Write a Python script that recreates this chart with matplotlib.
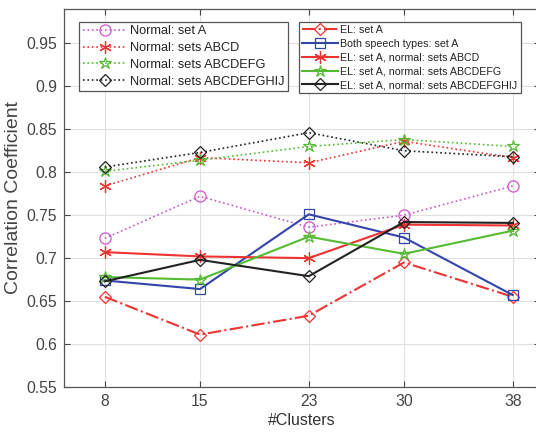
import matplotlib
matplotlib.use("Agg")
import matplotlib.pyplot as plt

plt.rcParams['font.family'] = ['Liberation Sans', 'DejaVu Sans']

clusters = [8, 15, 23, 30, 38]
xtick_labels = ['8', '15', '23', '30', '38']
yticks = [0.55, 0.6, 0.65, 0.7, 0.75, 0.8, 0.85, 0.9, 0.95]
ytick_labels = ['0.55', '0.6', '0.65', '0.7', '0.75', '0.8', '0.85', '0.9', '0.95']

normal_a = [0.723, 0.772, 0.736, 0.750, 0.784]
normal_abcd = [0.784, 0.817, 0.811, 0.836, 0.817]
normal_abcdefg = [0.801, 0.814, 0.830, 0.838, 0.830]
normal_abcdefghij = [0.806, 0.823, 0.846, 0.825, 0.818]

el_a = [0.655, 0.611, 0.633, 0.695, 0.655]
both_a = [0.674, 0.664, 0.751, 0.724, 0.657]
el_normal_abcd = [0.707, 0.702, 0.700, 0.739, 0.738]
el_normal_abcdefg = [0.678, 0.675, 0.725, 0.705, 0.732]
el_normal_abcdefghij = [0.673, 0.698, 0.679, 0.742, 0.741]

labels_left = ['Normal: set A', 'Normal: sets ABCD', 'Normal: sets ABCDEFG',
               'Normal: sets ABCDEFGHIJ']
labels_right = ['EL: set A', 'Both speech types: set A', 'EL: set A, normal: sets ABCD',
                'EL: set A, normal: sets ABCDEFG', 'EL: set A, normal: sets ABCDEFGHIJ']

MAG = '#cc55cc'
RED = '#ee3333'
GRN = '#55bb33'
BLU = '#3344aa'
BLK = '#222222'
ASTER = (6, 2, 0)

W, H = 536, 434
fig = plt.figure(figsize=(W / 100, H / 100), dpi=100)
left, right, top, bottom = 64, 540, 9, 387
ax = fig.add_axes([left / W, 1 - bottom / H, (right - left) / W, (bottom - top) / H])

left_series = [
    (normal_a, MAG, ':', 'o', 8, 'none'),
    (normal_abcd, RED, ':', ASTER, 9, RED),
    (normal_abcdefg, GRN, ':', '*', 9, 'none'),
    (normal_abcdefghij, BLK, ':', 'D', 6.5, 'none'),
]
right_series = [
    (el_a, RED, '-.', 'D', 6.5, 'none'),
    (both_a, BLU, '-', 's', 6.5, 'none'),
    (el_normal_abcd, RED, '-', ASTER, 9, RED),
    (el_normal_abcdefg, GRN, '-', '*', 9, 'none'),
    (el_normal_abcdefghij, BLK, '-', 'D', 6.5, 'none'),
]

hl, hr = [], []
for (vals, c, ls, mk, ms, mfc), lab in zip(left_series, labels_left):
    ln, = ax.plot(clusters, vals, color=c, linestyle=ls, linewidth=1.2, marker=mk,
                  markersize=ms, markerfacecolor=mfc, markeredgecolor=c,
                  markeredgewidth=0.9, label=lab)
    hl.append(ln)
for (vals, c, ls, mk, ms, mfc), lab in zip(right_series, labels_right):
    ln, = ax.plot(clusters, vals, color=c, linestyle=ls, linewidth=1.5, marker=mk,
                  markersize=ms, markerfacecolor=mfc, markeredgecolor=c,
                  markeredgewidth=0.9, label=lab)
    hr.append(ln)

ax.set_xlim(5, 40)
ax.set_ylim(0.55, 0.99)
ax.set_xticks(clusters)
ax.set_xticklabels(xtick_labels)
ax.set_yticks(yticks)
ax.set_yticklabels(ytick_labels)
ax.grid(True, color='#e0e0e0', linewidth=0.8)
ax.set_axisbelow(True)
ax.tick_params(direction='in', length=4, width=0.8, colors='#444444',
               labelsize=11.3, labelcolor='#444444', top=True, right=True, pad=5)
for s in ax.spines.values():
    s.set_color('#555555')
    s.set_linewidth(0.9)
ax.set_xlabel('#Clusters', fontsize=11.5, color='#333333', labelpad=3)
ax.set_ylabel('Correlation Coefficient', fontsize=14, color='#444444', labelpad=3)

leg1 = fig.legend(handles=hl, loc='upper left',
                  bbox_to_anchor=(79 / W, 1 - 21.5 / H), bbox_transform=fig.transFigure,
                  fontsize=9.2, frameon=True, fancybox=False, edgecolor='#555555',
                  framealpha=1, borderaxespad=0, handlelength=3.4, handletextpad=0.3,
                  labelspacing=0.37, borderpad=0.3)
leg1.get_frame().set_linewidth(0.9)
leg2 = fig.legend(handles=hr, loc='upper left',
                  bbox_to_anchor=(299 / W, 1 - 21.5 / H), bbox_transform=fig.transFigure,
                  fontsize=7.7, frameon=True, fancybox=False, edgecolor='#555555',
                  framealpha=1, borderaxespad=0, handlelength=3.3, handletextpad=0.25,
                  labelspacing=0.36, borderpad=0.3)
leg2.get_frame().set_linewidth(0.9)
for t in leg1.get_texts() + leg2.get_texts():
    t.set_color('#222222')

fig.savefig('out.png', dpi=100)
